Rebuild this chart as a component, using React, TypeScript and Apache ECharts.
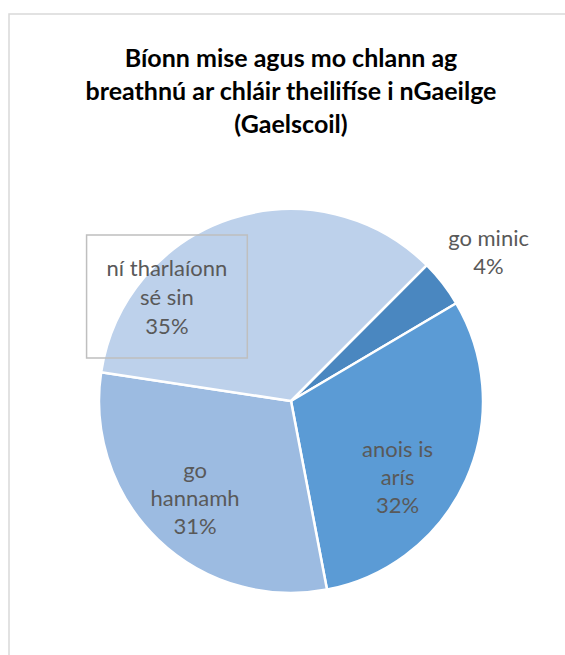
import React, { useEffect, useRef } from "react";
import * as echarts from "echarts";

const titleLines = [
  "Bíonn mise agus mo chlann ag",
  "breathnú ar chláir theilifíse i nGaeilge",
  "(Gaelscoil)",
];
const categories = ["go minic", "anois is\narís", "go\nhannamh", "ní tharlaíonn\nsé sin"];
const shares = [4.0, 30.5, 30.4, 35.1];
const pctLabels = ["4%", "32%", "31%", "35%"];
const colors = ["#4A87C0", "#5B9BD5", "#9CBBE1", "#BDD1EB"];

// placement styling for labels: angle offset (deg) from slice mid-angle, radius factor
const labelAngleOffset = [0.7, 11, 0.8, -31.7];
const labelRadiusFactor = [1.29, 0.68, 0.71, 0.845];

const CX = 291;
const CY = 401;
const R = 192;
const START = 45; // degrees clockwise from 12 o'clock

export default function App() {
  const ref = useRef<HTMLDivElement>(null);
  useEffect(() => {
    if (!ref.current) return;
    const chart = echarts.init(ref.current, null, { renderer: "svg" });
    const total = shares.reduce((a, b) => a + b, 0);
    let acc = START;
    const labelPos = shares.map((v, i) => {
      const sweep = (v / total) * 360;
      const mid = acc + sweep / 2 + labelAngleOffset[i];
      acc += sweep;
      const rad = (mid * Math.PI) / 180;
      const r = R * labelRadiusFactor[i];
      return { x: CX + r * Math.sin(rad), y: CY - r * Math.cos(rad) };
    });
    const font = "Lato, Carlito, Calibri, 'Noto Sans', sans-serif";
    chart.setOption({
      animation: false,
      backgroundColor: "#ffffff",
      graphic: [
        {
          type: "polyline",
          shape: { points: [[9, 700], [9, 14], [600, 14]] },
          style: { stroke: "#d9d9d9", lineWidth: 1.5, fill: null },
          silent: true,
        },
        {
          type: "text",
          x: 291,
          y: 90,
          style: {
            text: titleLines.join("\n"),
            fontFamily: font,
            fontWeight: "bold",
            fontSize: 25,
            lineHeight: 33,
            fill: "#000000",
            textAlign: "center",
            textVerticalAlign: "middle",
          },
        },
      ],
      series: [
        {
          type: "pie",
          center: [CX, CY],
          radius: R,
          startAngle: 90 - START,
          clockwise: true,
          avoidLabelOverlap: false,
          itemStyle: { borderColor: "#ffffff", borderWidth: 2.5 },
          label: {
            show: true,
            position: "inside",
            fontFamily: font,
            fontSize: 22,
            lineHeight: 28,
            color: "#595959",
            align: "center",
            formatter: (p: any) => `${p.name}\n${pctLabels[p.dataIndex]}`,
          },
          labelLine: { show: false },
          emphasis: { disabled: true },
          labelLayout: (params: any) => ({
            x: labelPos[params.dataIndex].x,
            y: labelPos[params.dataIndex].y,
            align: "center",
            verticalAlign: "middle",
          }),
          data: categories.map((name, i) => ({
            name,
            value: shares[i],
            itemStyle: { color: colors[i] },
            label:
              i === 3
                ? {
                    borderColor: "#bfbfbf",
                    borderWidth: 1.5,
                    padding: [18, 20],
                    lineHeight: 29,
                  }
                : undefined,
          })),
        },
      ],
    });
    return () => chart.dispose();
  }, []);
  return (
    <div
      ref={ref}
      style={{ position: "fixed", left: 0, top: 0, width: 565, height: 655 }}
    />
  );
}
